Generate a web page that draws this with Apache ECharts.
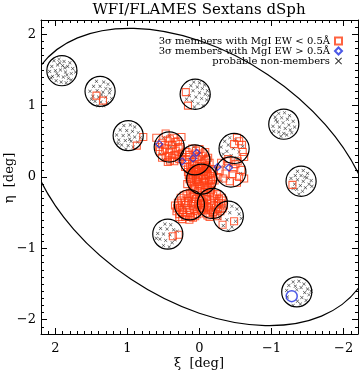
<!DOCTYPE html>
<html>
<head>
<meta charset="utf-8">
<script src="https://cdn.jsdelivr.net/npm/echarts@6/dist/echarts.min.js"></script>
<style>
  html, body { margin: 0; padding: 0; background: #fff; }
  #chart { width: 360px; height: 371px; }
</style>
</head>
<body>
<div id="chart"></div>
<script>
// tick labels
const majorTicks = [-2, -1, 0, 1, 2];

// FLAMES pointings (centre xi, eta in deg) and field radius
const fieldCenters = [
  [1.91, 1.49], [1.38, 1.20], [0.99, 0.58], [0.06, 1.16], [-1.17, 0.74],
  [-1.41, -0.06], [-1.35, -1.61], [0.42, 0.42], [0.065, 0.24], [-0.48, 0.40],
  [-0.435, 0.07], [-0.03, -0.03], [0.14, -0.39], [-0.18, -0.37], [-0.40, -0.55],
  [0.44, -0.80]
];
const fieldRadius = 0.21;

// tidal ellipse: centre, semi-axes (deg), position angle (deg)
const ellipseCenter = [0, 0];
const ellipseA = 2.7;
const ellipseB = 1.72;
const ellipsePA = 56;

// 3 sigma members, MgI EW < 0.5A
const membersLow = [
  [1.43, 1.14], [1.34, 1.07], [0.78, 0.56], [0.87, 0.44], [0.19, 1.19], [0.16, 1.00],
  [-1.29, -0.11], [0.37, -0.83], [0.29, -0.81], [-0.32, -0.67], [-0.48, -0.62], [-0.18, -0.49],
  [-0.52, 0.55], [-0.59, 0.45], [-0.55, 0.50], [-0.60, 0.35], [-0.48, 0.46], [-0.62, 0.28], [-0.40, 0.25], [-0.53, 0.22],
  [-0.30, 0.20], [-0.38, 0.22], [-0.50, 0.18], [-0.58, 0.10], [-0.28, 0.08], [-0.36, 0.05], [-0.46, 0.04],
  [-0.55, 0.00], [-0.33, -0.02], [-0.42, -0.06], [-0.52, -0.08], [-0.62, -0.02], [-0.25, 0.00], [-0.47, 0.12],
  [0.47, 0.61], [0.36, 0.55], [0.30, 0.50], [0.44, 0.50], [0.52, 0.48], [0.38, 0.45], [0.27, 0.42],
  [0.48, 0.40], [0.33, 0.37], [0.42, 0.34], [0.55, 0.36], [0.30, 0.30], [0.38, 0.27], [0.47, 0.28],
  [0.24, 0.34], [0.35, 0.22], [0.44, 0.21], [0.60, 0.55], [0.25, 0.56], [0.52, 0.27],
  [0.41, 0.53], [0.33, 0.49], [0.48, 0.45], [0.29, 0.40], [0.40, 0.39], [0.51, 0.36], [0.35, 0.31],
  [0.44, 0.29], [0.28, 0.25], [0.41, 0.23], [0.56, 0.42],
  [0.10, 0.40], [0.00, 0.39], [-0.08, 0.35], [0.18, 0.35], [0.06, 0.33], [-0.03, 0.30], [-0.12, 0.27],
  [0.15, 0.28], [0.03, 0.25], [-0.07, 0.22], [0.20, 0.20], [0.10, 0.18], [-0.02, 0.15], [-0.10, 0.14],
  [0.16, 0.12], [0.05, 0.10], [-0.06, 0.08], [0.12, 0.06], [-0.14, 0.20], [0.24, 0.28],
  [0.05, 0.37], [-0.05, 0.33], [0.14, 0.31], [0.01, 0.28], [-0.10, 0.24], [0.17, 0.24], [0.07, 0.21],
  [-0.04, 0.19], [0.13, 0.15], [0.01, 0.12], [-0.09, 0.11], [0.08, 0.08], [0.20, 0.14],
  [-0.03, 0.15], [0.05, 0.13], [-0.11, 0.12], [0.12, 0.08], [0.03, 0.07], [-0.06, 0.07], [-0.15, 0.05],
  [0.09, 0.02], [0.00, 0.01], [-0.09, 0.01], [-0.18, -0.02], [0.14, -0.03], [0.05, -0.04], [-0.04, -0.05],
  [-0.13, -0.06], [0.10, -0.09], [0.01, -0.10], [-0.08, -0.11], [-0.17, -0.10], [0.06, -0.15], [-0.03, -0.16],
  [-0.12, -0.16], [0.15, 0.03], [-0.20, 0.08], [0.02, -0.20], [-0.08, 0.16], [0.08, 0.17], [-0.16, -0.18],
  [0.01, 0.11], [-0.08, 0.09], [0.08, 0.12], [-0.17, 0.11], [0.16, 0.07], [0.05, 0.04], [-0.03, 0.03],
  [-0.12, 0.03], [0.11, -0.01], [0.02, -0.02], [-0.07, -0.03], [-0.16, -0.04], [0.12, -0.06], [0.03, -0.07],
  [-0.06, -0.08], [-0.15, -0.13], [0.08, -0.12], [-0.01, -0.13], [-0.10, -0.14], [0.10, -0.17], [-0.06, -0.21],
  [0.17, -0.10], [-0.21, -0.05],
  [0.18, -0.24], [0.08, -0.25], [0.26, -0.29], [0.15, -0.30], [0.05, -0.31], [-0.03, -0.33], [0.30, -0.36],
  [0.21, -0.36], [0.11, -0.37], [0.02, -0.39], [0.27, -0.43], [0.17, -0.43], [0.07, -0.45], [-0.02, -0.46],
  [0.32, -0.48], [0.23, -0.50], [0.13, -0.50], [0.03, -0.52], [0.20, -0.56], [0.09, -0.57], [0.28, -0.56],
  [0.14, -0.60], [0.34, -0.40], [-0.05, -0.40],
  [0.13, -0.23], [0.22, -0.26], [0.10, -0.28], [0.00, -0.28], [0.25, -0.33], [0.16, -0.34], [0.07, -0.34],
  [-0.02, -0.37], [0.29, -0.40], [0.19, -0.39], [0.09, -0.41], [0.00, -0.43], [0.24, -0.46], [0.14, -0.46],
  [0.04, -0.48], [0.28, -0.52], [0.17, -0.53], [0.06, -0.55], [0.24, -0.59], [0.12, -0.56], [0.31, -0.44],
  [-0.15, -0.22], [-0.24, -0.24], [-0.07, -0.26], [-0.31, -0.29], [-0.20, -0.30], [-0.11, -0.31], [-0.02, -0.33],
  [-0.27, -0.36], [-0.16, -0.37], [-0.07, -0.40], [-0.34, -0.40], [-0.23, -0.43], [-0.13, -0.44], [-0.29, -0.48],
  [-0.19, -0.50], [-0.09, -0.51], [-0.25, -0.55], [-0.14, -0.56], [-0.04, -0.47], [-0.33, -0.33],
  [-0.19, -0.26], [-0.10, -0.28], [-0.27, -0.31], [-0.15, -0.33], [-0.06, -0.36], [-0.30, -0.37], [-0.20, -0.40],
  [-0.11, -0.42], [-0.26, -0.45], [-0.16, -0.47], [-0.06, -0.44], [-0.22, -0.52], [-0.11, -0.54], [-0.32, -0.44],
  [-0.03, -0.29]
];

// 3 sigma members, MgI EW > 0.5A
const membersHigh = [
  [0.56, 0.46], [0.24, 0.22], [0.09, 0.26], [0.04, 0.34], [-0.25, 0.14], [-0.41, 0.13]
];

// odd star marked with a large blue circle
const flagged = [[-1.28, -1.67]];

// probable non-members
const nonMembers = [
  [2.02, 1.63], [1.95, 1.65], [1.88, 1.62], [1.80, 1.60], [2.05, 1.55], [1.97, 1.57], [1.90, 1.56],
  [1.83, 1.55], [1.76, 1.52], [2.08, 1.48], [2.00, 1.49], [1.93, 1.50], [1.86, 1.47], [1.78, 1.45],
  [2.04, 1.41], [1.96, 1.42], [1.89, 1.40], [1.82, 1.38], [1.99, 1.35], [1.92, 1.33], [1.85, 1.32],
  [1.78, 1.36], [2.06, 1.39], [1.94, 1.60], [1.72, 1.47], [1.87, 1.53], [1.98, 1.45], [1.84, 1.43],
  [1.43, 1.34], [1.33, 1.33], [1.27, 1.30], [1.47, 1.27], [1.38, 1.27], [1.30, 1.24], [1.52, 1.20],
  [1.42, 1.21], [1.34, 1.19], [1.25, 1.18], [1.48, 1.13], [1.40, 1.12], [1.30, 1.12], [1.22, 1.10],
  [1.45, 1.06], [1.37, 1.05], [1.28, 1.04], [1.33, 1.00], [1.41, 1.00], [1.24, 1.23], [1.36, 1.15], [1.50, 1.09],
  [1.05, 0.72], [0.96, 0.73], [0.90, 0.70], [1.10, 0.66], [1.01, 0.65], [0.93, 0.64], [0.85, 0.62],
  [1.15, 0.59], [1.06, 0.58], [0.98, 0.59], [0.90, 0.56], [1.12, 0.52], [1.03, 0.51], [0.95, 0.50],
  [0.86, 0.49], [1.08, 0.45], [0.99, 0.44], [0.92, 0.42], [1.02, 0.39], [1.13, 0.47], [0.82, 0.55], [0.97, 0.53],
  [0.08, 1.33], [0.00, 1.32], [-0.07, 1.29], [0.12, 1.28], [0.03, 1.26], [-0.04, 1.24], [-0.11, 1.21],
  [0.09, 1.21], [0.00, 1.18], [-0.08, 1.16], [0.14, 1.14], [0.05, 1.12], [-0.03, 1.10], [-0.10, 1.08],
  [0.10, 1.06], [0.02, 1.03], [-0.05, 1.00], [0.07, 0.98], [0.18, 1.09], [-0.13, 1.14],
  [-1.10, 0.89], [-1.18, 0.90], [-1.25, 0.86], [-1.05, 0.84], [-1.14, 0.83], [-1.22, 0.81], [-1.30, 0.78],
  [-1.08, 0.77], [-1.16, 0.76], [-1.24, 0.73], [-1.02, 0.71], [-1.11, 0.70], [-1.19, 0.68], [-1.03, 0.64],
  [-1.10, 0.63], [-1.17, 0.61], [-1.26, 0.66], [-1.13, 0.57], [-1.21, 0.59], [-1.32, 0.70], [-1.06, 0.80], [-1.28, 0.62],
  [-1.36, 0.08], [-1.44, 0.09], [-1.50, 0.05], [-1.33, 0.02], [-1.41, 0.02], [-1.49, -0.01], [-1.55, -0.05],
  [-1.36, -0.04], [-1.44, -0.06], [-1.52, -0.10], [-1.32, -0.10], [-1.40, -0.12], [-1.47, -0.15], [-1.35, -0.17],
  [-1.43, -0.20], [-1.38, -0.24], [-1.27, -0.02], [-1.56, -0.13], [-1.30, -0.16], [-1.46, 0.00],
  [-1.30, -1.47], [-1.38, -1.46], [-1.45, -1.50], [-1.24, -1.52], [-1.33, -1.53], [-1.41, -1.55], [-1.50, -1.57],
  [-1.21, -1.59], [-1.46, -1.62], [-1.52, -1.65], [-1.42, -1.69], [-1.48, -1.73], [-1.36, -1.74], [-1.40, -1.78],
  [-1.30, -1.80], [-1.22, -1.68], [-1.55, -1.60], [-1.35, -1.58],
  [0.48, -0.66], [0.40, -0.67], [0.54, -0.72], [0.45, -0.73], [0.36, -0.74], [0.58, -0.79], [0.50, -0.80],
  [0.41, -0.81], [0.55, -0.87], [0.47, -0.89], [0.38, -0.92], [0.50, -0.96], [0.42, -0.98], [0.31, -0.76],
  [0.60, -0.86], [0.34, -0.88],
  [-0.35, -0.42], [-0.45, -0.41], [-0.52, -0.45], [-0.30, -0.48], [-0.42, -0.50], [-0.55, -0.52], [-0.28, -0.58],
  [-0.38, -0.60], [-0.50, -0.62], [-0.33, -0.68], [-0.45, -0.70], [-0.40, -0.75], [-0.58, -0.58], [-0.25, -0.52],
  [-0.42, 0.55], [-0.35, 0.50], [-0.50, 0.52], [-0.40, 0.45], [-0.30, 0.42], [-0.47, 0.40], [-0.38, 0.36],
  [-0.55, 0.35], [-0.44, 0.30], [-0.33, 0.32], [-0.52, 0.27], [-0.60, 0.43],
  [-0.34, 0.14], [-0.44, 0.16], [-0.52, 0.24], [-0.40, -0.02], [-0.57, 0.05], [-0.30, -0.06],
  [0.50, 0.55], [0.42, 0.58], [0.58, 0.44], [0.40, 0.42], [0.55, 0.32], [0.50, 0.24], [0.34, 0.46],
  [0.08, 0.42], [0.13, 0.25], [-0.04, 0.27], [0.00, 0.12],
  [0.00, 0.05], [-0.10, -0.02], [0.07, -0.08], [-0.05, 0.10],
  [0.12, -0.33], [0.22, -0.42], [0.06, -0.42], [0.18, -0.50],
  [-0.22, -0.33], [-0.10, -0.36], [-0.28, -0.42], [-0.18, -0.45]
];

const FONT = 'DejaVu Serif';
const RED = '#ff3c12';
const BLUE = '#1f2fe0';
const crossPath = 'path://M0,1L1,0L5,4L9,0L10,1L6,5L10,9L9,10L5,6L1,10L0,9L4,5Z';

function fmt(v) {
  if (v === 0) return '0';
  return v < 0 ? '\u2212' + (-v) : String(v);
}

function axisPair(kind, position, withLabels) {
  const base = {
    type: 'value', min: -2.2, max: 2.2, position: position,
    inverse: kind === 'x', splitLine: { show: false }
  };
  const minor = Object.assign({}, base, {
    interval: 0.1,
    axisLine: { show: true, onZero: false, lineStyle: { color: '#000', width: 1 } },
    axisTick: { show: true, inside: true, length: 3, lineStyle: { color: '#000', width: 1 } },
    axisLabel: withLabels ? {
      show: true, customValues: majorTicks, formatter: fmt,
      fontFamily: FONT, fontSize: 13, color: '#000', margin: kind === 'x' ? 8 : 5
    } : { show: false }
  });
  const major = Object.assign({}, base, {
    axisLine: { show: false, onZero: false },
    axisTick: { show: true, inside: true, length: 6, customValues: majorTicks, lineStyle: { color: '#000', width: 1 } },
    axisLabel: { show: false }
  });
  return [minor, major];
}

const chart = echarts.init(document.getElementById('chart'), null, { renderer: 'canvas' });

const option = {
  animation: false,
  backgroundColor: '#fff',
  grid: { left: 41, right: 2, top: 20, bottom: 37, containLabel: false },
  xAxis: axisPair('x', 'bottom', true).concat(axisPair('x', 'top', false)),
  yAxis: axisPair('y', 'left', true).concat(axisPair('y', 'right', false)),
  legend: {
    orient: 'vertical', right: 12, top: 31, align: 'right',
    itemWidth: 7, itemHeight: 7, itemGap: 0,
    textStyle: { fontFamily: FONT, fontSize: 10, color: '#000' },
    data: [
      { name: '3\u03c3 members with MgI EW < 0.5\u00c5', icon: 'rect' },
      { name: '3\u03c3 members with MgI EW > 0.5\u00c5', icon: 'diamond' },
      { name: 'probable non-members', icon: crossPath, itemStyle: { color: '#000', borderWidth: 0 } }
    ]
  },
  graphic: [
    { type: 'text', x: 199, y: 10,
      style: { text: 'WFI/FLAMES Sextans dSph', align: 'center', verticalAlign: 'middle',
               font: '15px "DejaVu Serif"', fill: '#000' } },
    { type: 'text', x: 199, y: 364,
      style: { text: '\u03be  [deg]', align: 'center', verticalAlign: 'middle',
               font: '13px "DejaVu Serif"', fill: '#000' } },
    { type: 'text', x: 10, y: 178, rotation: Math.PI / 2,
      style: { text: '\u03b7  [deg]', align: 'center', verticalAlign: 'middle',
               font: '13px "DejaVu Serif"', fill: '#000' } }
  ],
  series: [
    {
      name: 'ellipse', type: 'custom', clip: true, silent: true, z: 3,
      data: [ellipseCenter],
      renderItem: function (params, api) {
        const pa = ellipsePA * Math.PI / 180;
        const c = api.coord([api.value(0), api.value(1)]);
        const pMaj = api.coord([api.value(0) + ellipseA * Math.sin(pa), api.value(1) + ellipseA * Math.cos(pa)]);
        const pMin = api.coord([api.value(0) + ellipseB * Math.cos(pa), api.value(1) - ellipseB * Math.sin(pa)]);
        const dx = pMaj[0] - c[0], dy = pMaj[1] - c[1];
        return {
          type: 'ellipse', x: c[0], y: c[1], rotation: Math.atan2(-dy, dx),
          shape: { cx: 0, cy: 0, rx: Math.hypot(dx, dy), ry: Math.hypot(pMin[0] - c[0], pMin[1] - c[1]) },
          style: { fill: 'none', stroke: '#000', lineWidth: 1.2 }
        };
      }
    },
    {
      name: 'probable non-members', type: 'scatter', z: 2,
      data: nonMembers, symbol: crossPath, symbolSize: 3.5,
      itemStyle: { color: '#000' }
    },
    {
      name: '3\u03c3 members with MgI EW < 0.5\u00c5', type: 'scatter', z: 2,
      data: membersLow, symbol: 'rect', symbolSize: 7,
      itemStyle: { color: 'transparent', borderColor: RED, borderWidth: 1.1 }
    },
    {
      name: '3\u03c3 members with MgI EW > 0.5\u00c5', type: 'scatter', z: 2,
      data: membersHigh, symbol: 'diamond', symbolSize: 7,
      itemStyle: { color: 'transparent', borderColor: BLUE, borderWidth: 1.2 }
    },
    {
      name: 'flagged', type: 'scatter', z: 2,
      data: flagged, symbol: 'circle', symbolSize: 11,
      itemStyle: { color: 'transparent', borderColor: BLUE, borderWidth: 1.5 }
    },
    {
      name: 'fields', type: 'custom', clip: true, silent: true, z: 4,
      data: fieldCenters,
      renderItem: function (params, api) {
        const c = api.coord([api.value(0), api.value(1)]);
        const s = api.size([fieldRadius, fieldRadius]);
        return {
          type: 'circle', shape: { cx: c[0], cy: c[1], r: (s[0] + s[1]) / 2 },
          style: { fill: 'none', stroke: '#000', lineWidth: 1.2 }
        };
      }
    }
  ]
};

chart.setOption(option);
window.addEventListener('resize', function () { chart.resize(); });
</script>
</body>
</html>
